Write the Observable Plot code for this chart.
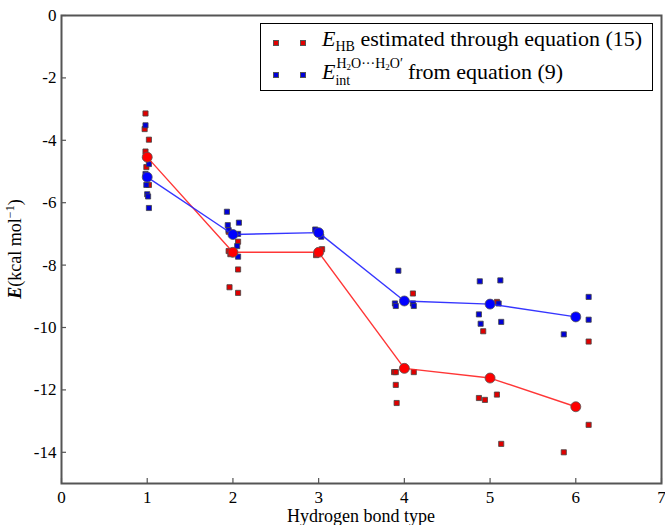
<!DOCTYPE html>
<html>
<head>
<meta charset="utf-8">
<script src="https://cdn.jsdelivr.net/npm/d3@7"></script>
<script src="https://cdn.jsdelivr.net/npm/@observablehq/plot@0.6"></script>
<style>
  html, body { margin: 0; padding: 0; background: #fff; }
  #wrap { position: relative; width: 665px; height: 525px; font-family: 'Liberation Serif', 'DejaVu Serif', 'Times New Roman', serif; }
  #wrap svg text { font-family: 'Liberation Serif', 'DejaVu Serif', 'Times New Roman', serif; }
  #legend { position: absolute; left: 260px; top: 23px; width: 393px; height: 68px; border: 1.5px solid #000; background: #fff; box-sizing: border-box; font-size: 22px; color: #000; font-family: 'Liberation Serif', 'DejaVu Serif', serif; }
  .row { position: absolute; left: 0; height: 30px; white-space: nowrap; }
  .mk { position: absolute; width: 4px; height: 4px; border: 0.8px solid #555; }
  .txt { position: absolute; left: 61px; line-height: 24px; }
  .stk { display: inline-block; position: relative; width: 67px; height: 0; }
  .stk .sup { position: absolute; left: 1px; top: -23px; font-size: 14px; line-height: normal; white-space: nowrap; }
  .stk .sub { position: absolute; left: 0px; top: -6px; font-size: 14px; line-height: normal; }
  .s2 { font-size: 9px; position: relative; top: 2px; }
</style>
</head>
<body>
<div id="wrap"></div>
<script>
// ---- data ----
const types = [1, 2, 3, 4, 5, 6];
const hbMean = [-4.54, -7.59, -7.59, -11.31, -11.62, -12.54];
const intMean = [-5.18, -7.02, -6.96, -9.15, -9.25, -9.66];

const hbX = [0.98, 0.97, 1.02, 0.98, 0.99, 1.02,
             1.95, 1.95, 1.97, 2.06, 2.06, 1.96, 2.06,
             2.97, 3.04,
             3.88, 3.90, 4.11, 3.90, 3.91, 4.10,
             5.08, 4.92, 4.87, 4.94, 5.08, 5.13,
             6.15, 6.15, 5.86];
const hbY = [-3.14, -3.64, -3.98, -4.36, -4.86, -5.43,
             -6.93, -7.55, -7.65, -7.25, -8.14, -8.71, -8.89,
             -7.68, -7.49,
             -11.43, -11.43, -11.43, -11.84, -12.42, -8.91,
             -9.18, -10.12, -12.26, -12.32, -12.15, -13.73,
             -10.45, -13.12, -14.0];

const intX = [0.98, 1.02, 0.98, 0.99, 1.00, 1.01, 1.02,
              1.93, 1.94, 2.07, 1.95, 2.06, 2.05, 2.06,
              2.96, 3.03, 2.99,
              3.93, 3.89, 3.90, 4.10, 4.11,
              4.88, 5.12, 5.10, 4.87, 4.89, 5.13,
              6.15, 6.15, 5.86];
const intY = [-3.52, -4.76, -5.08, -5.43, -5.73, -5.80, -6.17,
              -6.29, -6.72, -6.64, -6.88, -7.00, -7.39, -7.73,
              -6.86, -7.09, -6.95,
              -8.18, -9.23, -9.31, -9.23, -9.31,
              -8.52, -8.49, -9.23, -9.58, -9.88, -9.82,
              -9.02, -9.75, -10.22];

const xTicks = [0, 1, 2, 3, 4, 5, 6, 7];
const yTicks = [0, -2, -4, -6, -8, -10, -12, -14];
const xLabel = "Hydrogen bond type";

// ---- tables ----
const hbPts = hbX.map((x, i) => ({x, y: hbY[i]}));
const intPts = intX.map((x, i) => ({x, y: intY[i]}));
const hbLine = types.map((x, i) => ({x, y: hbMean[i]}));
const intLine = types.map((x, i) => ({x, y: intMean[i]}));

const FONT = "'Liberation Serif', 'DejaVu Serif', serif";

const plot = Plot.plot({
  width: 665,
  height: 525,
  marginLeft: 61,
  marginRight: 4,
  marginTop: 15,
  marginBottom: 42,
  style: {fontFamily: FONT, fontSize: "17px", background: "#fff", color: "#000"},
  x: {domain: [0, 7]},
  y: {domain: [-15, 0]},
  marks: [
    Plot.axisX(xTicks, {tickSize: -5, tickPadding: 12, stroke: "#555", strokeWidth: 1.2, fontSize: 17, label: null, tickFormat: d => String(d)}),
    Plot.axisY(yTicks, {tickSize: -5, tickPadding: 10, stroke: "#555", strokeWidth: 1.2, fontSize: 17, label: null, tickFormat: d => String(d).replace("\u2212", "-")}),
    Plot.dot(hbPts, {x: "x", y: "y", symbol: "square", r: 2.9, fill: "#e00000", stroke: "#444", strokeWidth: 0.8}),
    Plot.dot(intPts, {x: "x", y: "y", symbol: "square", r: 2.9, fill: "#0000d8", stroke: "#444", strokeWidth: 0.8}),
    Plot.line(hbLine, {x: "x", y: "y", stroke: "#ff2020", strokeWidth: 1.4, strokeOpacity: 0.9}),
    Plot.dot(hbLine, {x: "x", y: "y", r: 5, fill: "#ff0000", stroke: "#555", strokeWidth: 0.8}),
    Plot.line(intLine, {x: "x", y: "y", stroke: "#2020ff", strokeWidth: 1.4, strokeOpacity: 0.9}),
    Plot.dot(intLine, {x: "x", y: "y", r: 5, fill: "#0000ff", stroke: "#555", strokeWidth: 0.8}),
    Plot.frame({stroke: "#555", strokeWidth: 2})
  ]
});

const wrap = document.getElementById("wrap");
wrap.appendChild(plot);

// axis titles
const svg = d3.select(plot);
const xs = plot.scale("x"), ys = plot.scale("y");
const cx = (xs.range[0] + xs.range[1]) / 2;
const cy = (ys.range[0] + ys.range[1]) / 2;
svg.append("text")
  .attr("x", cx).attr("y", 522)
  .attr("text-anchor", "middle")
  .attr("font-size", 18)
  .text(xLabel);
const yl = svg.append("text")
  .attr("transform", `translate(21,${cy}) rotate(-90)`)
  .attr("text-anchor", "middle")
  .attr("font-size", 18);
yl.append("tspan").attr("font-weight", "bold").attr("font-style", "italic").text("E");
yl.append("tspan").text("(kcal mol");
yl.append("tspan").attr("font-size", 12).attr("dy", -7).text("\u22121");
yl.append("tspan").attr("dy", 7).text(")");

// legend
const legend = document.createElement("div");
legend.id = "legend";
legend.innerHTML = `
  <div class="row" style="top:2px">
    <span class="mk" style="left:12px;top:14px;background:#e00000"></span>
    <span class="mk" style="left:39px;top:14px;background:#e00000"></span>
    <span class="txt" style="top:1px"><i>E</i><span style="font-size:14px;position:relative;top:5px">HB</span> estimated through equation (15)</span>
  </div>
  <div class="row" style="top:35px">
    <span class="mk" style="left:12px;top:13px;background:#0000d8"></span>
    <span class="mk" style="left:39px;top:13px;background:#0000d8"></span>
    <span class="txt" style="top:1px"><i>E</i><span class="stk"><span class="sup">H<span class="s2">2</span>O···H<span class="s2">2</span>O′</span><span class="sub">int</span></span> from equation (9)</span>
  </div>`;
wrap.appendChild(legend);
</script>
</body>
</html>
